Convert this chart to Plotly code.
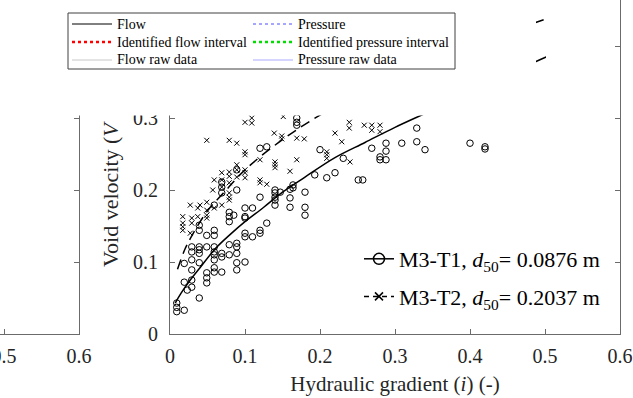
import plotly.graph_objects as go

# ---------------- data ----------------
t1_i = [0.009, 0.009, 0.009, 0.019, 0.019, 0.019, 0.023, 0.029, 0.029, 0.029, 0.029, 0.029, 0.029,
        0.039, 0.039, 0.039, 0.039, 0.039, 0.039, 0.039, 0.049, 0.049, 0.049, 0.049, 0.049,
        0.059, 0.059, 0.059, 0.059, 0.059, 0.059, 0.059, 0.059, 0.059,
        0.069, 0.069, 0.069, 0.069, 0.069, 0.069, 0.079, 0.079, 0.079, 0.079, 0.079, 0.085,
        0.089, 0.089, 0.089, 0.089, 0.089, 0.089, 0.089, 0.100, 0.100, 0.100, 0.100, 0.100, 0.100,
        0.110, 0.110, 0.120, 0.120, 0.120, 0.120, 0.129, 0.129,
        0.140, 0.140, 0.140, 0.140, 0.140, 0.147, 0.160, 0.160, 0.160, 0.164, 0.164,
        0.169, 0.169, 0.169, 0.180, 0.180, 0.180, 0.193, 0.200, 0.209, 0.220, 0.231,
        0.251, 0.257, 0.269, 0.280, 0.280, 0.288, 0.288, 0.288, 0.309, 0.329, 0.329, 0.340,
        0.400, 0.420, 0.420]
t1_v = [0.031, 0.037, 0.043, 0.033, 0.072, 0.098, 0.061, 0.121, 0.114, 0.103, 0.089, 0.075, 0.065,
        0.050, 0.151, 0.144, 0.121, 0.117, 0.112, 0.099, 0.137, 0.121, 0.085, 0.078, 0.071,
        0.179, 0.144, 0.137, 0.121, 0.114, 0.110, 0.103, 0.092, 0.086,
        0.211, 0.204, 0.196, 0.112, 0.107, 0.086, 0.169, 0.163, 0.156, 0.124, 0.110, 0.165,
        0.200, 0.228, 0.126, 0.121, 0.112, 0.099, 0.089, 0.175, 0.163, 0.161, 0.140, 0.135, 0.100,
        0.175, 0.135, 0.190, 0.258, 0.144, 0.140, 0.260, 0.154,
        0.200, 0.196, 0.190, 0.186, 0.179, 0.197, 0.176, 0.189, 0.201, 0.207, 0.203,
        0.300, 0.294, 0.290, 0.197, 0.176, 0.165, 0.221, 0.256, 0.217, 0.224, 0.244,
        0.214, 0.214, 0.258, 0.246, 0.242, 0.265, 0.254, 0.242, 0.265, 0.286, 0.267, 0.256,
        0.265, 0.260, 0.257]

t2_i = [0.017, 0.017, 0.017, 0.017, 0.027, 0.027, 0.029, 0.029, 0.037, 0.037, 0.040,
        0.049, 0.049, 0.049, 0.049, 0.049, 0.057, 0.059, 0.059,
        0.069, 0.069, 0.069, 0.069, 0.079, 0.079, 0.079, 0.079, 0.079, 0.079, 0.079,
        0.089, 0.089, 0.089, 0.089, 0.100, 0.100, 0.100, 0.100, 0.100, 0.100,
        0.109, 0.109, 0.120, 0.120, 0.120, 0.129, 0.139, 0.140, 0.140, 0.140,
        0.149, 0.149, 0.151, 0.160, 0.169, 0.169, 0.179, 0.209, 0.209, 0.209,
        0.220, 0.229, 0.239, 0.239, 0.240, 0.259, 0.269, 0.269, 0.280, 0.280]
t2_v = [0.163, 0.154, 0.149, 0.144, 0.179, 0.140, 0.161, 0.154, 0.175, 0.163, 0.179,
        0.183, 0.172, 0.165, 0.161, 0.269, 0.200, 0.214, 0.175,
        0.224, 0.214, 0.204, 0.179, 0.225, 0.219, 0.210, 0.196, 0.190, 0.186, 0.269,
        0.265, 0.235, 0.228, 0.218, 0.294, 0.253, 0.249, 0.228, 0.224, 0.217,
        0.300, 0.293, 0.242, 0.214, 0.210, 0.208, 0.279, 0.239, 0.235, 0.231,
        0.275, 0.271, 0.302, 0.226, 0.272, 0.242, 0.271, 0.253, 0.249, 0.244,
        0.279, 0.267, 0.294, 0.286, 0.239, 0.290, 0.290, 0.283, 0.290, 0.281]

fit1_i = [0.007, 0.015, 0.027, 0.04, 0.06, 0.08, 0.1, 0.125, 0.15, 0.18, 0.22, 0.26, 0.3,
          0.35, 0.4, 0.45, 0.5, 0.55]
fit1_v = [0.043, 0.057, 0.075, 0.092, 0.118, 0.138, 0.156, 0.176, 0.197, 0.218, 0.245, 0.266,
          0.287, 0.311, 0.336, 0.36, 0.384, 0.405]

fit2_i = [0.01, 0.02, 0.03, 0.05, 0.075, 0.1, 0.15, 0.2, 0.25, 0.3, 0.35, 0.4, 0.45, 0.5, 0.55]
fit2_v = [0.09, 0.118, 0.138, 0.171, 0.2, 0.228, 0.27, 0.304, 0.333, 0.357, 0.379, 0.400,
          0.419, 0.437, 0.453]

series_names = ["M3-T1, <i>d</i><sub>50</sub>= 0.0876 m", "M3-T2, <i>d</i><sub>50</sub>= 0.2037 m"]
top_left_names = ["Flow", "Identified flow interval", "Flow raw data"]
top_right_names = ["Pressure", "Identified pressure interval", "Pressure raw data"]

x_ticks = [0, 0.1, 0.2, 0.3, 0.4, 0.5, 0.6]
y_ticks = [0, 0.1, 0.2, 0.3, 0.4]
left_x_ticks = [0.5, 0.6]

x_title = "Hydraulic gradient (<i>i</i>) (-)"
y_title = "Void velocity (<i>V</i>"

# ---------------- layout geometry ----------------
W, H = 633, 398
ML, MR, MT, MB = 0, 13, 0, 64
PW, PH = W - ML - MR, H - MT - MB
X_PER_UNIT = 750.0   # px per unit of i
Y_PER_UNIT = 720.0   # px per unit of velocity


def px(x):
    return x / PW


def py(y):
    return (PH - y) / PH


FONT = "Liberation Serif"
AX_COL = "#6b6b6b"
TXT_COL = "#262626"

fig = go.Figure()

fig.add_trace(go.Scatter(x=t1_i, y=t1_v, mode="markers", showlegend=False,
                         marker=dict(symbol="circle-open", size=6.5, color="black",
                                     line=dict(width=1, color="black"))))
fig.add_trace(go.Scatter(x=t2_i, y=t2_v, mode="markers", showlegend=False,
                         marker=dict(symbol="x-thin-open", size=5, color="black",
                                     line=dict(width=1, color="black"))))
fig.add_trace(go.Scatter(x=fit1_i, y=fit1_v, mode="lines", showlegend=False, line_shape="spline",
                         line=dict(color="black", width=1.5)))
fig.add_trace(go.Scatter(x=fit2_i, y=fit2_v, mode="lines", showlegend=False, line_shape="spline",
                         line=dict(color="black", width=1.5, dash="10px,6px")))

# legend keys for the two series
fig.add_trace(go.Scatter(x=[None], y=[None], mode="lines+markers", name=series_names[0],
                         legend="legend", legendgroup="a",
                         line=dict(color="black", width=1.5),
                         marker=dict(symbol="circle-open", size=11, color="black",
                                     line=dict(width=1.5, color="black"))))
fig.add_trace(go.Scatter(x=[None], y=[None], mode="lines+markers", name=series_names[1],
                         legend="legend", legendgroup="b",
                         line=dict(color="black", width=1.5, dash="5px,4px"),
                         marker=dict(symbol="x-thin-open", size=8, color="black",
                                     line=dict(width=1.5, color="black"))))

# the neighbouring panel on the left
fig.add_trace(go.Scatter(x=[None], y=[None], xaxis="x2", yaxis="y2", showlegend=False))

axis_common = dict(showline=True, linecolor=AX_COL, linewidth=1, ticks="inside", ticklen=5,
                   tickcolor=AX_COL, showgrid=False, zeroline=False, ticklabeloverflow="allow",
                   automargin=False,
                   tickfont=dict(family=FONT, size=20, color=TXT_COL))

y_top = PH / Y_PER_UNIT
x2_left = 0.6 - 79 / X_PER_UNIT

# ---- partly visible legend box at the top (keys drawn as shapes, names as text) ----
left_styles = [dict(color="black", width=1), dict(color="red", width=2.5, dash="dot"),
               dict(color="#c8c8c8", width=1)]
right_styles = [dict(color="#4d4dff", width=1, dash="dot"), dict(color="#00dd00", width=2.5, dash="dot"),
                dict(color="#aaaaff", width=1)]
row_y = [24, 42, 60]
shapes = [
    dict(type="rect", xref="paper", yref="paper", x0=-0.02, x1=px(536), y0=py(115.5), y1=1.05,
         fillcolor="white", line=dict(width=0), layer="above"),
    dict(type="rect", xref="paper", yref="paper", x0=px(546), x1=px(614), y0=py(115.5), y1=1.05,
         fillcolor="white", line=dict(width=0), layer="above"),
    dict(type="rect", xref="paper", yref="paper", x0=px(68), x1=px(455), y0=py(69), y1=py(13),
         fillcolor="white", line=dict(width=1, color="#404040"), layer="above"),
]
annotations = [
    dict(text=y_title, textangle=-90, xref="paper", yref="paper", x=px(110), y=py(269),
         xanchor="center", yanchor="bottom", showarrow=False,
         font=dict(family=FONT, size=22, color=TXT_COL)),
]
for col_x, names, styles in [(72, top_left_names, left_styles), (253, top_right_names, right_styles)]:
    for ry, nm, st in zip(row_y, names, styles):
        shapes.append(dict(type="line", xref="paper", yref="paper", x0=px(col_x), x1=px(col_x + 40),
                           y0=py(ry), y1=py(ry), line=st, layer="above"))
        annotations.append(dict(text=nm, xref="paper", yref="paper", x=px(col_x + 43), y=py(ry),
                                xanchor="left", yanchor="middle", showarrow=False,
                                font=dict(family=FONT, size=14, color="black")))

fig.update_layout(
    width=W, height=H, margin=dict(l=ML, r=MR, t=MT, b=MB),
    paper_bgcolor="white", plot_bgcolor="white",
    xaxis=dict(domain=[px(170), 1], range=[0, 0.6], tickvals=x_ticks, anchor="y",
               ticklabelstandoff=4,
               title=dict(text=x_title, font=dict(family=FONT, size=21, color=TXT_COL), standoff=10),
               **axis_common),
    yaxis=dict(domain=[0, 1], range=[0, y_top], tickvals=y_ticks, anchor="x", mirror="ticks",
               ticklabelstandoff=7, **axis_common),
    xaxis2=dict(domain=[0, px(79)], range=[x2_left, 0.6], tickvals=left_x_ticks, anchor="y2",
                ticklabelstandoff=4, **axis_common),
    yaxis2=dict(domain=[0, 1], range=[0, y_top], tickvals=[0.1, 0.2, 0.3], anchor="x2", side="right",
                showticklabels=False, **{k: v for k, v in axis_common.items() if k != "tickfont"}),
    legend=dict(x=px(359), y=py(238), xanchor="left", yanchor="top", bgcolor="rgba(0,0,0,0)",
                font=dict(family=FONT, size=22, color="black"), tracegroupgap=6, itemwidth=30),
    shapes=shapes,
    annotations=annotations,
)

fig.write_html("out.html")
